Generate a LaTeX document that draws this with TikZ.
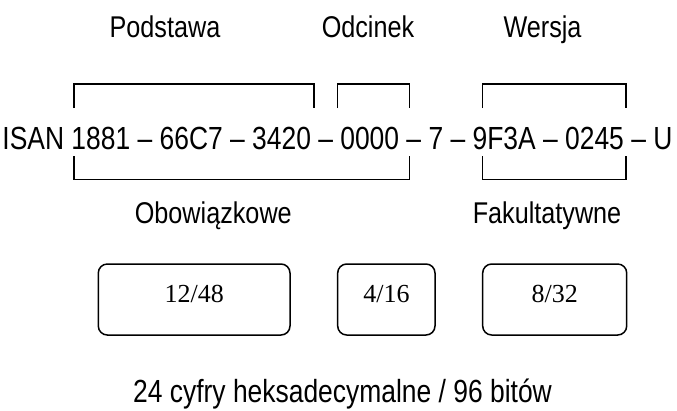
\documentclass[tikz,border=0pt]{standalone}
\usepackage{fontspec}
\setmainfont[FakeStretch=0.84]{Liberation Sans}
\newfontfamily\narrowfont[FakeStretch=0.826]{Liberation Sans}
\newfontfamily\timesfont{Liberation Serif}
\begin{document}
\begin{tikzpicture}[x=1pt,y=-1pt,
  lbl/.style={inner sep=0pt,anchor=base,font=\fontsize{30}{32}\selectfont},
  mainline/.style={inner sep=0pt,anchor=base,font=\narrowfont\fontsize{32}{34}\selectfont},
  brk/.style={line width=1.5pt},
  valbox/.style={draw,line width=1.5pt,rounded corners=9pt},
  val/.style={inner sep=0pt,anchor=base,font=\timesfont\fontsize{26}{28}\selectfont}]
\useasboundingbox (0,0) rectangle (677,410);
% top labels
\node[lbl] (podstawa) at (165,37.3) {Podstawa};
\node[lbl] (odcinek) at (368,37.3) {Odcinek};
\node[lbl] (wersja) at (542.5,37.3) {Wersja};
% main line
\node[mainline] (isan) at (337.5,149) {ISAN 1881 – 66C7 – 3420 – 0000 – 7 – 9F3A – 0245 – U};
% top brackets
\draw[brk] (74,108) -- (74,84) -- (314,84) -- (314,108);
\draw[brk] (337.7,108) -- (337.7,84) -- (409.3,84) -- (409.3,108);
\draw[brk] (482.7,108) -- (482.7,84) -- (626,84) -- (626,108);
% bottom brackets
\draw[brk] (74,156) -- (74,179.5) -- (409.3,179.5) -- (409.3,156);
\draw[brk] (482.7,156) -- (482.7,179.5) -- (626,179.5) -- (626,156);
% lower labels
\node[lbl] (obow) at (213.3,223.3) {Obowiązkowe};
\node[lbl] (fakult) at (547,223.3) {Fakultatywne};
% boxes
\draw[valbox] (98.3,264) rectangle (290,335);
\draw[valbox] (337.7,264) rectangle (435,335);
\draw[valbox] (482.7,264) rectangle (626.7,335);
\node[val] (v1) at (194.2,302) {12/48};
\node[val] (v2) at (386.4,302) {4/16};
\node[val] (v3) at (554.7,302) {8/32};
% bottom text
\node[mainline] (total) at (342.5,402) {24 cyfry heksadecymalne / 96 bitów};
\end{tikzpicture}
\end{document}
